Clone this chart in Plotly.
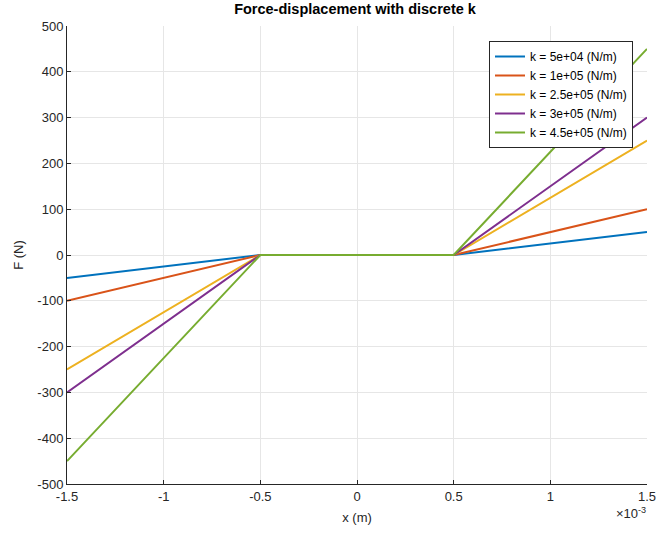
import plotly.graph_objects as go

# displacement (m)
x_m = [-1.5e-3, -0.5e-3, 0.5e-3, 1.5e-3]

# force (N) for each spring stiffness, zero inside the gap
k_labels = ["k = 5e+04 (N/m)", "k = 1e+05 (N/m)", "k = 2.5e+05 (N/m)",
            "k = 3e+05 (N/m)", "k = 4.5e+05 (N/m)"]
F_k1 = [-50, 0, 0, 50]
F_k2 = [-100, 0, 0, 100]
F_k3 = [-250, 0, 0, 250]
F_k4 = [-300, 0, 0, 300]
F_k5 = [-450, 0, 0, 450]

x_tick_vals = [-1.5e-3, -1e-3, -0.5e-3, 0, 0.5e-3, 1e-3, 1.5e-3]
x_tick_text = ["-1.5", "-1", "-0.5", "0", "0.5", "1", "1.5"]
y_tick_vals = [-500, -400, -300, -200, -100, 0, 100, 200, 300, 400, 500]
y_tick_text = ["-500", "-400", "-300", "-200", "-100", "0",
               "100", "200", "300", "400", "500"]

colors = ["#0072BD", "#D95319", "#EDB120", "#7E2F8E", "#77AC30"]
font_family = "Liberation Sans, Arial, sans-serif"

fig = go.Figure()
for name, F, c in zip(k_labels, [F_k1, F_k2, F_k3, F_k4, F_k5], colors):
    fig.add_trace(go.Scatter(x=x_m, y=F, mode="lines", name=name,
                             line=dict(color=c, width=2)))

axis_common = dict(showgrid=True, gridcolor="#e6e6e6", gridwidth=1,
                   zeroline=False, showline=True, linecolor="#262626",
                   linewidth=1, ticks="inside", ticklen=4, tickcolor="#262626",
                   tickfont=dict(size=13, color="#262626", family=font_family),
                   mirror=False, automargin=False,
                   ticklabeloverflow="allow")

fig.update_layout(
    width=656, height=533,
    margin=dict(l=67, r=9, t=26, b=49),
    paper_bgcolor="white", plot_bgcolor="white",
    font=dict(family=font_family, color="#262626"),
    title=dict(text="<b>Force-displacement with discrete k</b>",
               x=355 / 656, xanchor="center", y=1 - 4 / 533, yanchor="top",
               font=dict(size=14.5, color="#000000", family=font_family)),
    xaxis=dict(range=[-1.5e-3, 1.5e-3 + 1e-12], tickvals=x_tick_vals,
               ticktext=x_tick_text,
               title=dict(text="x (m)", standoff=10,
                          font=dict(size=13, color="#262626")),
               **axis_common),
    yaxis=dict(range=[-500, 500], tickvals=y_tick_vals, ticktext=y_tick_text,
               title=dict(text="F (N)", standoff=10,
                          font=dict(size=13, color="#262626")),
               **axis_common),
    legend=dict(x=(633 - 67) / 580, y=1 - (41 - 26) / 458,
                xanchor="right", yanchor="top",
                bgcolor="white", bordercolor="#262626", borderwidth=1,
                font=dict(size=12, color="#000000", family=font_family),
                tracegroupgap=0, itemwidth=30),
    showlegend=True,
)

fig.add_annotation(text="×10<sup>-3</sup>", xref="paper", yref="paper",
                   x=1.0 + 1 / 580, y=-0.042, xanchor="right", yanchor="top",
                   showarrow=False,
                   font=dict(size=13, color="#262626", family=font_family))

fig.write_html("out.html")
